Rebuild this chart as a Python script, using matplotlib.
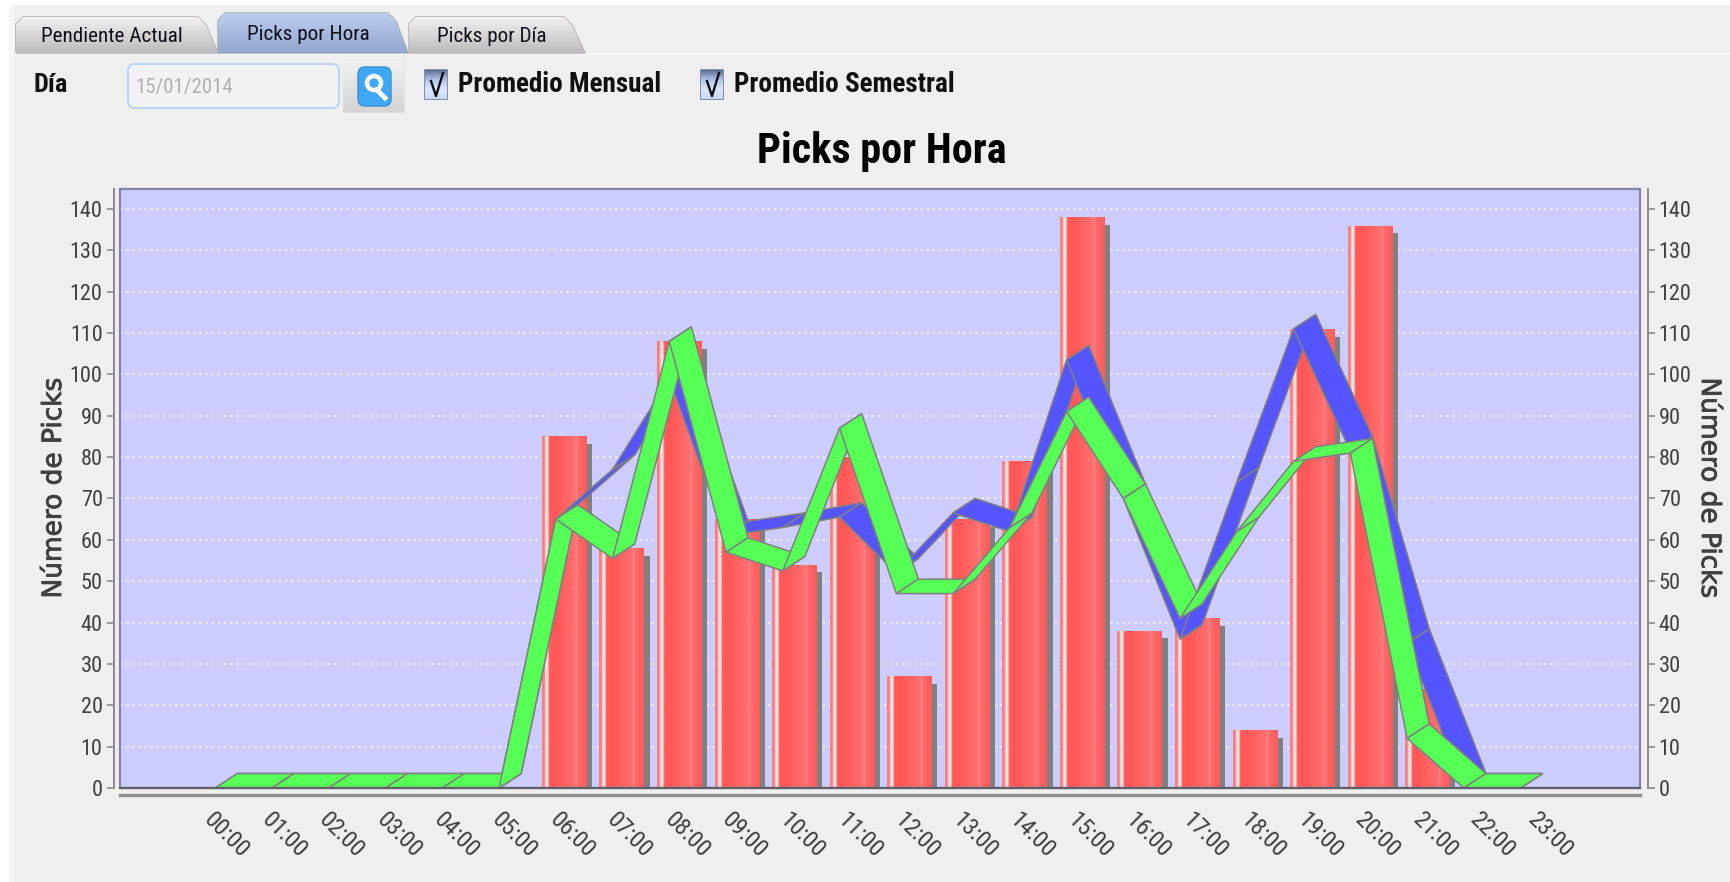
#!/usr/bin/python
import numpy as np
import matplotlib
matplotlib.use('Agg')
import matplotlib.pyplot as plt
import matplotlib.patheffects as pe
from matplotlib.patches import Rectangle, Polygon, FancyBboxPatch, Circle
from matplotlib.colors import LinearSegmentedColormap

W, H = 1731, 882

horas = ['%02d:00' % h for h in range(24)]
picks = [0, 0, 0, 0, 0, 0, 85, 58, 108, 65, 54, 80, 27, 65, 79, 138, 38, 41, 14, 111, 136, 24, 0, 0]
prom_semestral = [0, 0, 0, 0, 0, 0, 65, 77, 99, 61, 63, 65.5, 52, 66.5, 62, 103.5, 70, 36, 74, 111, 81.5, 35, 0, 0]
prom_mensual = [0, 0, 0, 0, 0, 0, 65, 55.5, 108, 57, 52.5, 87, 47, 47, 63, 91, 70, 41, 62, 79, 81, 12, 0, 0]
yticks = list(range(0, 141, 10))
tabs = ['Pendiente Actual', 'Picks por Hora', 'Picks por Día']

plt.rcParams['font.family'] = ['Roboto Condensed', 'Liberation Sans', 'DejaVu Sans']

fig = plt.figure(figsize=(W/100, H/100), dpi=100, facecolor='#EFEFEF')

#### window chrome, in pixels
ui = fig.add_axes([0, 0, 1, 1], zorder=0)
ui.set_xlim(0, W); ui.set_ylim(H, 0); ui.axis('off')
ui.add_patch(Rectangle((0, 0), W, 5, fc='white', ec='none'))
ui.add_patch(Rectangle((0, 0), 9, H, fc='white', ec='none'))
ui.add_patch(Rectangle((9, 5), 5, H, fc='#F6F6F6', ec='none'))
ui.add_patch(Rectangle((14, 53), W, 2, fc='#F8F8F8', ec='none'))

def gradbox(patch, colors):
    x0, y0 = patch.get_xy().min(axis=0)
    x1, y1 = patch.get_xy().max(axis=0)
    ui.add_patch(patch)
    g = np.linspace(0, 1, 64).reshape(-1, 1)
    cm = LinearSegmentedColormap.from_list('g', colors)
    im = ui.imshow(g, extent=(x0, x1, y1, y0), cmap=cm, aspect='auto', zorder=patch.get_zorder()+0.1)
    im.set_clip_path(patch)
    ui.set_xlim(0, W); ui.set_ylim(H, 0)

tab_x = [(16, 206, 218), (218, 396, 408), (409, 572, 585)]
tab_top = [17, 13, 17]
for i in range(3):
    x0, x1, x2 = tab_x[i]
    t = tab_top[i]
    poly = Polygon([(x0, 53), (x0, t+7), (x0+7, t), (x1-8, t), (x1, t+8), (x2, 53)], closed=True, fc='none', ec='#A8A8A8', lw=1, zorder=2)
    if i == 1:
        gradbox(poly, ['#BCCDEF', '#93A8CF'])
    else:
        gradbox(poly, ['#F2F0F0', '#BDBBBD'])
    ui.text((x0+x2)/2-5, 37 if i != 1 else 34, tabs[i], fontsize=15.2, color='#101018', ha='center', va='center', zorder=5)

ui.text(34, 85, 'Día', fontsize=19, fontweight='bold', color='#101010', va='center')
ui.add_patch(FancyBboxPatch((128, 64), 211, 44, boxstyle='round,pad=0,rounding_size=7', fc='#F2F2F2', ec='#B4D2F5', lw=1.3))
ui.text(135, 87, '15/01/2014', fontsize=15, color='#B0B0B0', va='center')

# search button
btn = Polygon([(343, 61), (404, 61), (404, 112), (343, 112)], closed=True, fc='none', ec='#E4E4E4', lw=1, zorder=2)
gradbox(btn, ['#F0F0F0', '#D4D4D4'])
ui.add_patch(FancyBboxPatch((358, 67), 33, 39, boxstyle='round,pad=0,rounding_size=7', fc='#3FA8F5', ec='#3A8FD8', lw=1, zorder=4))
ui.add_patch(Circle((374, 83), 7, fc='none', ec='white', lw=3.2, zorder=5))
ui.plot([378, 385], [91, 98], color='white', lw=3.5, zorder=5)

# checkboxes
for x, lab in [(425, 'Promedio Mensual'), (701, 'Promedio Semestral')]:
    cb = Polygon([(x, 70), (x+22, 70), (x+22, 99), (x, 99)], closed=True, fc='none', ec='#6E7C9C', lw=1.2, zorder=2)
    gradbox(cb, ['#5F6F92', '#B0C4EC', '#DCE8FF', '#C8D8F8'])
    ui.plot([x+6, x+11, x+18], [81, 96, 73], color='#101010', lw=1.7, zorder=5)
    ui.text(x+33, 85, lab, fontsize=19.5, fontweight='bold', color='#101010', va='center')

ui.text(882, 151, 'Picks por Hora', fontsize=30.3, fontweight='bold', color='black', ha='center', va='center')

#### chart
L, R, T, B = 120, 1640, 189, 788
pxu = 4.136 # px per pick
step = 57.56 # px per hour
x_first = 218.6 # centre of first bar

ax = fig.add_axes([L/W, 1-B/H, (R-L)/W, (B-T)/H], zorder=1)
ax.set_facecolor('#CCCCFF')
xlim = ((L-x_first)/step, (R-x_first)/step)
ylim = (0, (B-T)/pxu)

ax.grid(axis='y', color='white', ls=(0, (1.5, 2.5)), lw=1.1, alpha=0.85)
ax.set_axisbelow(True)

bw = 0.767
xb = np.arange(24)
grad = LinearSegmentedColormap.from_list('barra', [
    (0.00, '#FF7878'), (0.06, '#FF8888'), (0.08, '#FFE4E4'), (0.13, '#FFE4E4'), (0.16, '#FF6060'),
    (0.27, '#FF5555'), (0.74, '#FF7070'), (0.765, '#FF8080'), (0.78, '#E88484'), (0.80, '#FF6A6A'), (1.00, '#FF5A5A')])
gimg = np.linspace(0, 1, 256).reshape(1, -1)

# shadow then bar
for i in xb:
    if picks[i] > 0:
        ax.bar(i+0.104, picks[i]-1.85, bw, color='#808080', zorder=2)
for i in xb:
    if picks[i] > 0:
        b = ax.bar(i, picks[i], bw, color='#FF5555', zorder=3)[0]
        im = ax.imshow(gimg, extent=(i-bw/2, i+bw/2, 0, picks[i]), cmap=grad, vmin=0, vmax=1, aspect='auto', zorder=3.1)
        im.set_clip_path(b)

# 3D ribbons (front edge = value, back edge shifted by the depth)
dx, dy = 0.384, 3.5
xl = -0.058 + 0.986*np.arange(24)

def ribbon(vals, color, z):
    for i in range(23):
        ax.add_patch(Polygon([(xl[i], vals[i]), (xl[i+1], vals[i+1]), (xl[i+1]+dx, vals[i+1]+dy), (xl[i]+dx, vals[i]+dy)],
                             closed=True, fc=color, ec='#808080', lw=1.1, zorder=z, joinstyle='miter'))

ribbon(prom_semestral, '#5555FF', 4)
ribbon(prom_mensual, '#55FF55', 5)

ax.set_xlim(xlim); ax.set_ylim(ylim)
ax.set_xticks([])

# plot border
for s in ['top', 'bottom', 'left', 'right']:
    ax.spines[s].set_visible(False)
ax.add_patch(Rectangle((0, 0), 1, 1, transform=ax.transAxes, fc='none', ec='#8484A6', lw=1.6, zorder=6, clip_on=False))
ax.plot(xlim, [0, 0], color='#606068', lw=1.6, zorder=6, clip_on=False)
ax.plot(xlim, [-1.75, -1.75], color='#8C8C8C', lw=2.4, zorder=6, clip_on=False)

ax.spines['left'].set_visible(True)
ax.spines['left'].set_position(('outward', 4.5))
ax.spines['left'].set_color('#8C8C8C')
ax.spines['left'].set_linewidth(1.4)
ax.set_yticks(yticks)
ax.tick_params(axis='y', length=5, width=1.2, color='#8C8C8C', labelcolor='#404040', labelsize=16, pad=3)

ax2 = ax.twinx()
ax2.set_zorder(2)
ax2.set_ylim(ylim)
for s in ['top', 'bottom', 'left']:
    ax2.spines[s].set_visible(False)
ax2.spines['right'].set_position(('outward', 5.5))
ax2.spines['right'].set_color('#8C8C8C')
ax2.spines['right'].set_linewidth(1.4)
ax2.set_yticks(yticks)
ax2.tick_params(axis='y', length=5, width=1.2, color='#8C8C8C', labelcolor='#404040', labelsize=16, pad=3)

for i, lab in enumerate(horas):
    ax.annotate(lab, (i, 0), xytext=(7.7, -47), textcoords='offset pixels', rotation=-45, ha='center', va='center',
                fontsize=17.5, color='#404040', annotation_clip=False)

stroke = [pe.withStroke(linewidth=0.6, foreground='#404040')]
fig.text(54/W, 1-488/H, 'Número de Picks', family='DejaVu Sans', fontsize=19, color='#404040', rotation=90, ha='center', va='center', path_effects=stroke)
fig.text(1709/W, 1-488/H, 'Número de Picks', family='DejaVu Sans', fontsize=19, color='#404040', rotation=-90, ha='center', va='center', path_effects=stroke)

fig.savefig('out.png', dpi=100, facecolor=fig.get_facecolor())
